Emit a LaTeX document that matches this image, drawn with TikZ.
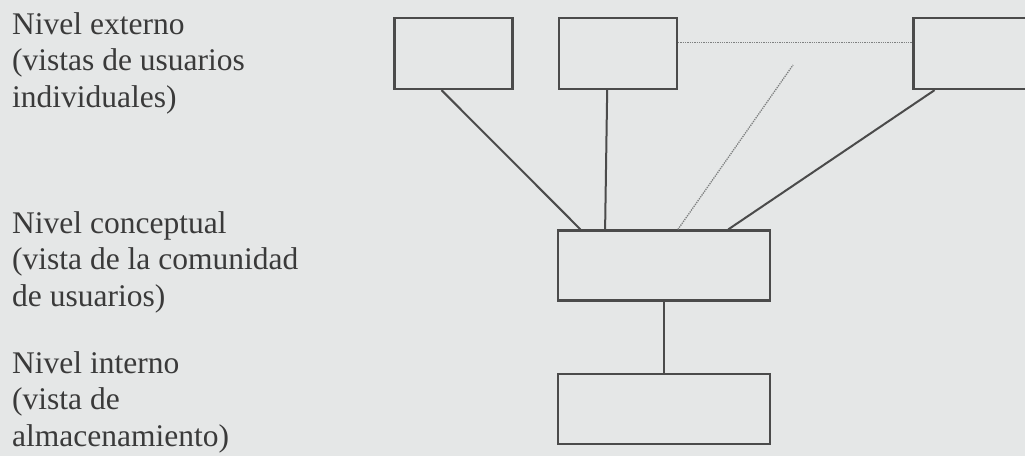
\documentclass[tikz,border=0pt]{standalone}
\usepackage{fontspec}
\setmainfont{Liberation Serif}
\usepackage{tikz}
\usetikzlibrary{positioning,calc}
\definecolor{cfondo}{HTML}{E5E7E7}
\definecolor{clinea}{HTML}{4B4B4B}
\definecolor{cpunto}{HTML}{7E8080}
\definecolor{ctexto}{HTML}{3A3A3A}
\tikzset{
  caja/.style={rectangle, draw=clinea, line width=2.2pt, inner sep=0pt,
    minimum width=118pt, minimum height=71pt},
  cajaancha/.style={caja, minimum width=212pt, minimum height=70pt},
  linea/.style={draw=clinea, line width=2pt},
  punteada/.style={draw=cpunto, line width=1.3pt, densely dotted},
  nivel/.style={anchor=base west, align=left, inner sep=0pt, text=ctexto,
    font=\fontsize{31.5}{36.5}\selectfont},
}

\begin{document}
\begin{tikzpicture}[x=1pt, y=-1pt, node distance=71.5pt]
  \path[fill=cfondo, use as bounding box] (0,0) rectangle (1025,456);
  \clip (0,0) rectangle (1025,456);
  % textos de los niveles (anclados en la ultima linea)
  \node[nivel] (txtext) at (12,107) {Nivel externo\\(vistas de usuarios\\individuales)};
  \node[nivel] (txtconc) at (12,306) {Nivel conceptual\\(vista de la comunidad\\de usuarios)};
  \node[nivel] (txtint) at (12,446) {Nivel interno\\(vista de\\almacenamiento)};
  % cajas
  \node[caja] (ext1) at (453.5,53.5) {};
  \node[caja] (ext2) at (618,53.5) {};
  \node[caja] (ext3) at (972.5,53.5) {};
  \node[cajaancha] (conc) at (664,265.5) {};
  \node[cajaancha, below=of conc] (int) {};
  \coordinate (fin) at (793,65);
  % conexiones
  \draw[linea] ($(ext1.south west)!0.4!(ext1.south east)$) -- ($(conc.north west)!0.11!(conc.north east)$);
  \draw[linea] ($(ext2.south west)!0.41!(ext2.south east)$) -- ($(conc.north west)!0.225!(conc.north east)$);
  \draw[linea] ($(ext3.south west)!0.185!(ext3.south east)$) -- ($(conc.north west)!0.8!(conc.north east)$);
  \draw[linea] (conc) -- (int);
  \draw[punteada] ($(ext2.north east)!0.35!(ext2.south east)$) -- ($(ext3.north west)!0.35!(ext3.south west)$);
  \draw[punteada] ($(conc.north west)!0.565!(conc.north east)$) -- (fin);
\end{tikzpicture}
\end{document}
